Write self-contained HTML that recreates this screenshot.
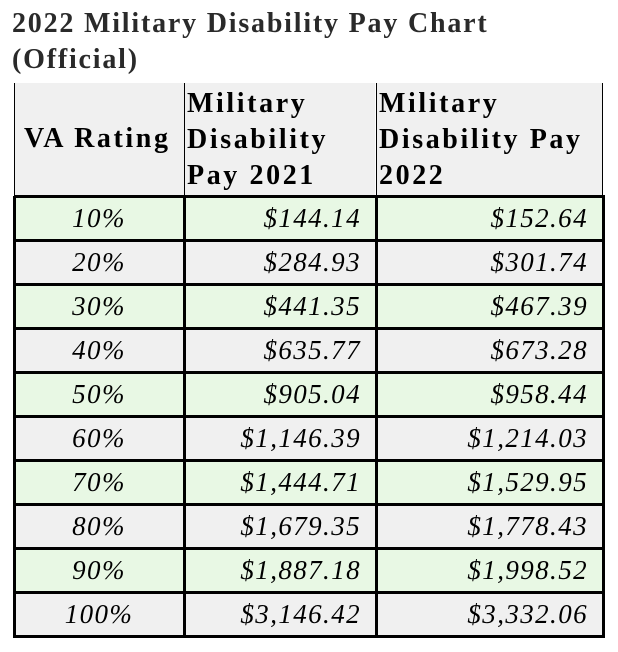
<!DOCTYPE html>
<html><head><style>
body{margin:0;width:618px;height:652px;background:#fff;font-family:"Liberation Serif",serif;position:relative;overflow:hidden}
.t{position:absolute;left:12px;top:6px;font-size:28px;font-weight:bold;color:#2a2a2a;line-height:36px;letter-spacing:1.8px;white-space:nowrap}
.h{position:absolute;top:83px;height:113px;background:#f0f0f0;font-weight:bold;font-size:28px;line-height:36px;color:#000;letter-spacing:2.6px;white-space:nowrap}
.vl{position:absolute;top:83px;height:113px;width:1px;background:#000}
.r{position:absolute;left:14px;width:588px;height:44px}
.c{position:absolute;top:0;height:44px;line-height:44px;font-style:italic;font-size:27px;letter-spacing:1.4px}
.hl{position:absolute;left:14px;width:591px;height:3px;background:#000}
.bv{position:absolute;top:196px;height:442px;width:3px;background:#000}
</style></head><body>
<div class="t">2022 Military Disability Pay Chart<br>(Official)</div>
<div class="h" style="left:14px;width:170px;"><div style="position:absolute;left:10px;top:38px">VA Rating</div></div>
<div class="h" style="left:185px;width:190px;"><div style="position:absolute;left:2px;top:3px">Military<br>Disability<br>Pay 2021</div></div>
<div class="h" style="left:377px;width:225px;"><div style="position:absolute;left:2px;top:3px">Military<br>Disability Pay<br>2022</div></div>
<div class="vl" style="left:14px"></div><div class="vl" style="left:184px"></div><div class="vl" style="left:376px"></div><div class="vl" style="left:602px"></div>
<div id="rows"></div>
<script>
var d=[["10%","$144.14","$152.64"],["20%","$284.93","$301.74"],["30%","$441.35","$467.39"],["40%","$635.77","$673.28"],["50%","$905.04","$958.44"],["60%","$1,146.39","$1,214.03"],["70%","$1,444.71","$1,529.95"],["80%","$1,679.35","$1,778.43"],["90%","$1,887.18","$1,998.52"],["100%","$3,146.42","$3,332.06"]];
var h="";
d.forEach(function(r,i){var y=196+i*44;var bg=i%2==0?"#e8f8e4":"#f0f0f0";
h+='<div class="r" style="top:'+y+'px;background:'+bg+'"><div class="c" style="left:0;width:170px;text-align:center">'+r[0]+'</div><div class="c" style="left:170px;width:177px;text-align:right">'+r[1]+'</div><div class="c" style="left:362px;width:212px;text-align:right">'+r[2]+'</div></div>';
h+='<div class="hl" style="top:'+(y-1)+'px"></div>';});
h+='<div class="hl" style="top:635px"></div>';
[13,183,375,602].forEach(function(x){h+='<div class="bv" style="left:'+x+'px"></div>';});
document.getElementById("rows").innerHTML=h;
</script>
</body></html>
